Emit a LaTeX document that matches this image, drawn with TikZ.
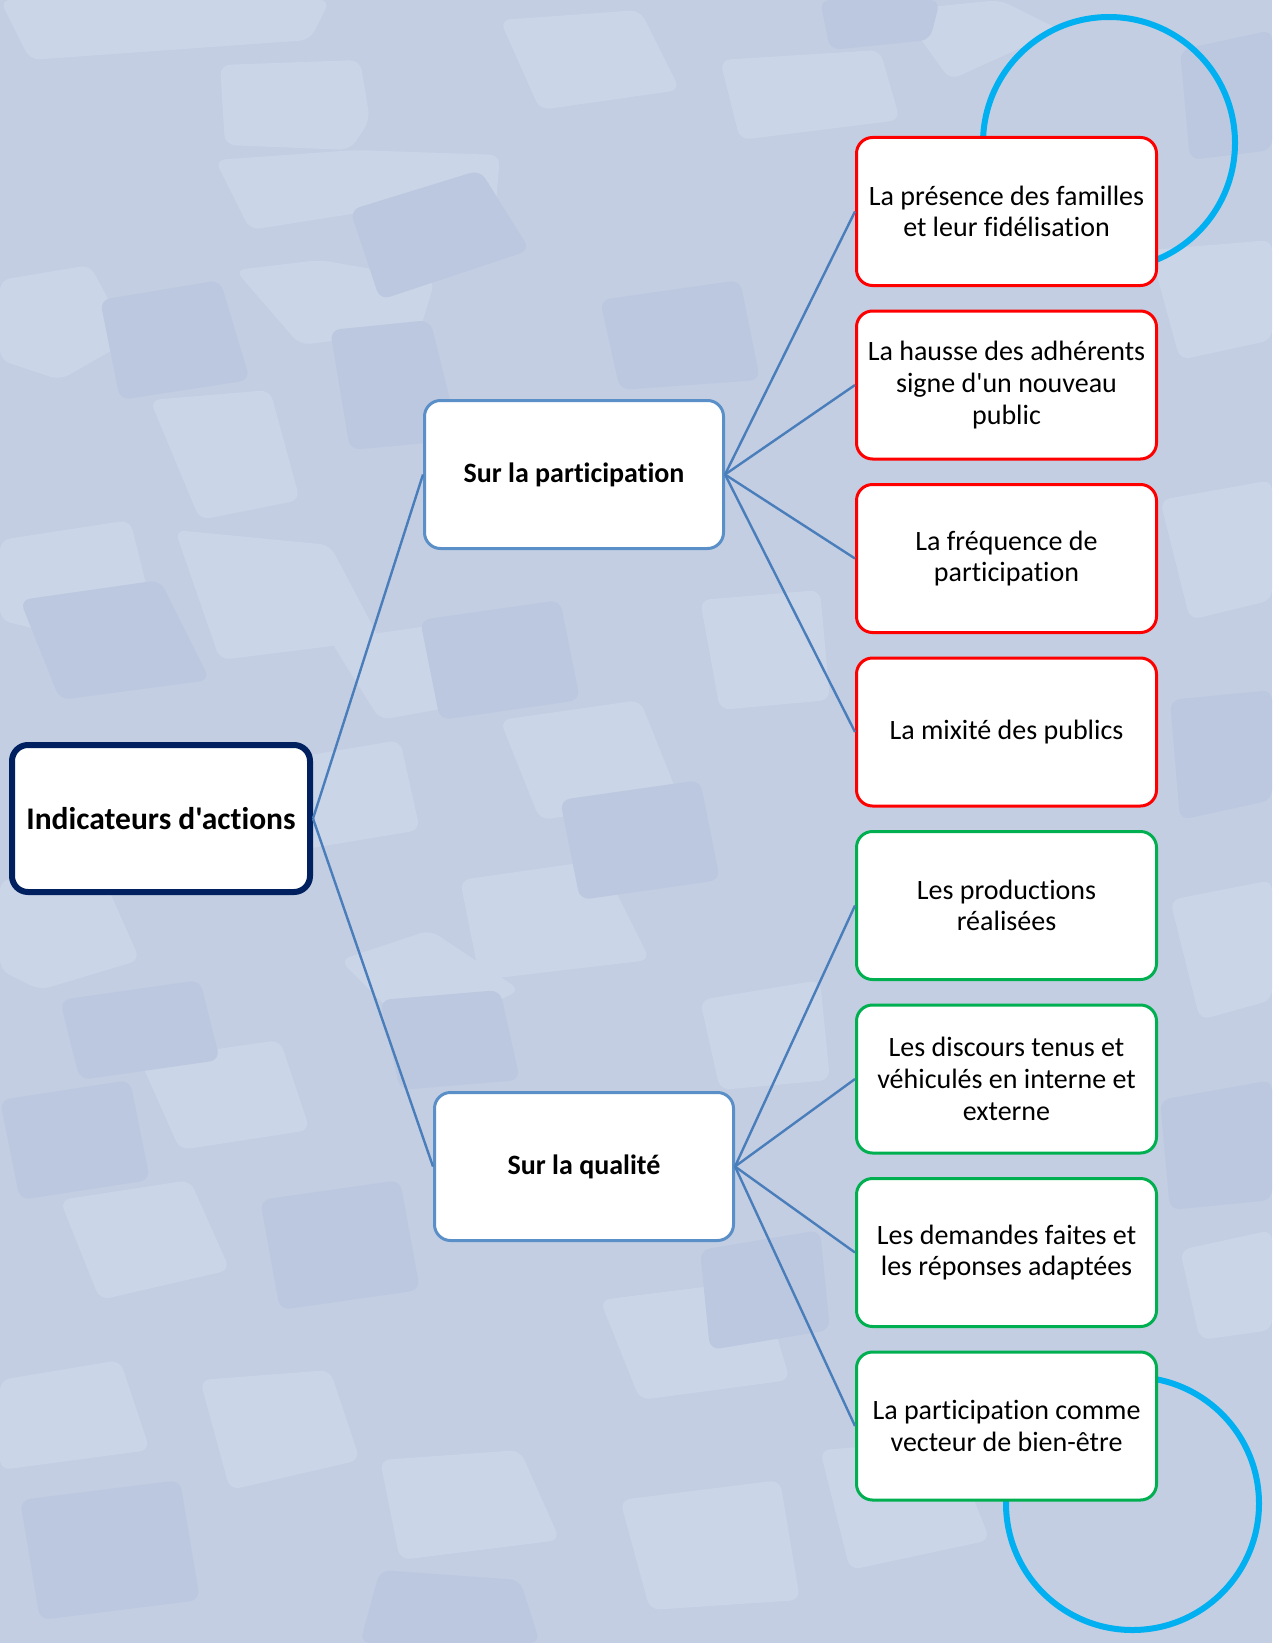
\documentclass[tikz,border=0pt]{standalone}
\usepackage{fontspec}
\setmainfont{Carlito}[Ligatures={TeXOff,NoCommon}]
\definecolor{bgbase}{HTML}{C3CEE3}
\definecolor{bglight}{HTML}{CBD5E8}
\definecolor{bgdark}{HTML}{BCC8DF}
\definecolor{linkblue}{HTML}{4A7EBB}
\definecolor{midblue}{HTML}{5B8FC7}
\definecolor{navy}{HTML}{002060}
\definecolor{ringblue}{HTML}{00B0F0}
\definecolor{leafgreen}{HTML}{00B050}
\begin{document}
\begin{tikzpicture}[x=1pt,y=-1pt,
  tilelight/.style={fill=bglight,draw=none,rounded corners=10pt},
  tiledark/.style={fill=bgdark,draw=none,rounded corners=10pt},
  ring/.style={draw=ringblue,line width=6pt},
  link/.style={draw=linkblue,line width=2.4pt},
  rootbox/.style={draw=navy,line width=6pt,fill=white,rounded corners=16pt,
    minimum width=298pt,minimum height=147pt,align=center,
    font=\bfseries\fontsize{31.5}{36}\selectfont},
  midbox/.style={draw=midblue,line width=3pt,fill=white,rounded corners=16pt,
    minimum width=299pt,minimum height=148pt,align=center,
    font=\bfseries\fontsize{28}{32}\selectfont},
  leafbox/.style={line width=3pt,fill=white,rounded corners=16pt,
    minimum width=300pt,minimum height=148pt,align=center,inner sep=2pt,
    font=\fontsize{28}{31.7}\selectfont},
  redleaf/.style={leafbox,draw=red},
  greenleaf/.style={leafbox,draw=leafgreen}]
\useasboundingbox (0,0) rectangle (1272,1643);
\fill[bgbase] (0,0) rectangle (1272,1643);
% background mosaic
\foreach \p in {
 {(0,0)--(330,0)--(310,40)--(30,60)},
 {(220,65)--(360,60)--(370,120)--(350,150)--(225,145)},
 {(215,160)--(355,150)--(500,155)--(495,215)--(440,200)--(250,230)},
 {(235,270)--(320,260)--(435,280)--(420,330)--(300,345)},
 {(0,280)--(90,265)--(130,340)--(60,380)--(0,360)},
 {(0,540)--(130,520)--(150,600)--(80,640)--(0,620)},
 {(150,400)--(270,390)--(300,500)--(200,520)},
 {(175,530)--(330,545)--(380,640)--(220,660)},
 {(330,640)--(470,620)--(490,700)--(380,720)},
 {(0,880)--(100,870)--(140,960)--(40,990)--(0,970)},
 {(140,1060)--(280,1040)--(310,1130)--(180,1150)},
 {(340,960)--(430,930)--(520,990)--(420,1040)},
 {(60,1200)--(190,1180)--(230,1270)--(100,1300)},
 {(0,1380)--(120,1360)--(150,1450)--(0,1470)},
 {(200,1380)--(330,1370)--(360,1460)--(230,1490)},
 {(380,1460)--(520,1450)--(560,1540)--(400,1560)},
 {(600,1300)--(760,1280)--(790,1380)--(640,1400)},
 {(620,1500)--(780,1480)--(800,1600)--(650,1610)},
 {(820,1450)--(950,1440)--(990,1540)--(850,1570)},
 {(500,20)--(640,10)--(680,90)--(540,110)},
 {(720,60)--(880,50)--(900,120)--(740,140)},
 {(900,10)--(1000,0)--(1060,30)--(950,80)},
 {(1150,250)--(1272,240)--(1272,340)--(1180,360)},
 {(1160,500)--(1272,480)--(1272,600)--(1190,620)},
 {(1170,900)--(1272,880)--(1272,1000)--(1200,1020)},
 {(1180,1250)--(1272,1230)--(1272,1330)--(1200,1340)},
 {(500,720)--(640,700)--(680,800)--(540,820)},
 {(460,880)--(600,860)--(650,960)--(480,980)},
 {(700,600)--(820,590)--(830,700)--(720,710)},
 {(700,1000)--(820,980)--(830,1080)--(720,1090)},
 {(280,760)--(400,740)--(420,830)--(300,850)}}
 {\fill[tilelight] \p -- cycle;}
\foreach \p in {
 {(20,600)--(160,580)--(210,680)--(60,700)},
 {(350,210)--(480,170)--(530,250)--(380,300)},
 {(100,300)--(220,280)--(250,380)--(120,400)},
 {(330,330)--(430,320)--(460,440)--(350,450)},
 {(0,1100)--(130,1080)--(150,1180)--(20,1200)},
 {(260,1200)--(400,1180)--(420,1290)--(280,1310)},
 {(20,1500)--(180,1480)--(200,1600)--(40,1620)},
 {(380,1570)--(520,1580)--(540,1643)--(360,1643)},
 {(420,620)--(560,600)--(580,700)--(440,720)},
 {(600,300)--(740,280)--(760,380)--(620,390)},
 {(560,800)--(700,780)--(720,880)--(580,900)},
 {(700,1250)--(820,1230)--(830,1330)--(710,1350)},
 {(1180,50)--(1272,30)--(1272,150)--(1190,160)},
 {(1170,700)--(1272,690)--(1272,800)--(1180,820)},
 {(1160,1100)--(1272,1080)--(1272,1200)--(1170,1210)},
 {(820,0)--(940,0)--(930,40)--(830,50)},
 {(380,1000)--(500,990)--(520,1080)--(400,1090)},
 {(60,1000)--(200,980)--(220,1060)--(80,1080)}}
 {\fill[tiledark] \p -- cycle;}
% decorative rings (behind boxes)
\draw[ring] (1109,143) circle[radius=126];
\draw[ring] (1132.5,1503.5) circle[radius=126.5];
% nodes
\node[rootbox] (root) at (161,818.5) {Indicateurs d'actions};
\node[midbox] (part) at (574,474.5) {Sur la participation};
\node[midbox] (qual) at (584,1166.5) {Sur la qualité};
\node[redleaf] (l1) at (1006.5,211.5) {La présence des familles\\et leur fidélisation};
\node[redleaf] (l2) at (1006.5,385) {La hausse des adhérents\\signe d'un nouveau\\public};
\node[redleaf] (l3) at (1006.5,558.5) {La fréquence de\\participation};
\node[redleaf] (l4) at (1006.5,732) {La mixité des publics};
\node[greenleaf] (l5) at (1006.5,905.5) {Les productions\\réalisées};
\node[greenleaf] (l6) at (1006.5,1079) {Les discours tenus et\\véhiculés en interne et\\externe};
\node[greenleaf] (l7) at (1006.5,1252.5) {Les demandes faites et\\les réponses adaptées};
\node[greenleaf] (l8) at (1006.5,1426) {La participation comme\\vecteur de bien-être};
% connectors
\draw[link] (root.east) -- (part.west);
\draw[link] (root.east) -- (qual.west);
\foreach \n in {l1,l2,l3,l4} \draw[link] (part.east) -- (\n.west);
\foreach \n in {l5,l6,l7,l8} \draw[link] (qual.east) -- (\n.west);
\end{tikzpicture}
\end{document}
